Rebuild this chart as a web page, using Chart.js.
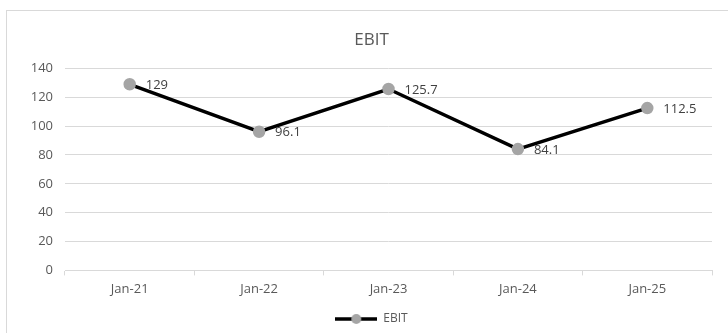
<!DOCTYPE html>
<html>
<head>
<meta charset="utf-8">
<script src="https://cdn.jsdelivr.net/npm/chart.js@4/dist/chart.umd.min.js"></script>
<style>
  html, body { margin: 0; padding: 0; background: #fff; }
  #frame { position: absolute; left: 6px; top: 10px; width: 740px; height: 340px;
           border-left: 1px solid #d9d9d9; border-top: 1px solid #d9d9d9; }
  #wrap { position: absolute; left: 0; top: 0; width: 728px; height: 333px; }
</style>
</head>
<body>
<div id="frame"></div>
<div id="wrap"><canvas id="ebitChart"></canvas></div>
<script>
const months = ['Jan-21', 'Jan-22', 'Jan-23', 'Jan-24', 'Jan-25'];
const ebitValues = [129, 96.1, 125.7, 84.1, 112.5];
const yTicks = [0, 20, 40, 60, 80, 100, 120, 140];

const textColor = '#595959';
const fontFamily = "'Open Sans', 'Liberation Sans', sans-serif";

// legend marker: black line with grey dot
function legendMarker() {
  const c = document.createElement('canvas');
  c.width = 42; c.height = 12;
  const g = c.getContext('2d');
  g.strokeStyle = '#000'; g.lineWidth = 3.5;
  g.beginPath(); g.moveTo(0, 6); g.lineTo(42, 6); g.stroke();
  g.fillStyle = '#a5a5a5';
  g.beginPath(); g.arc(21, 6, 5, 0, Math.PI * 2); g.fill();
  return c;
}

const valueLabels = {
  id: 'valueLabels',
  afterDatasetsDraw(chart) {
    const ctx = chart.ctx;
    const meta = chart.getDatasetMeta(0);
    ctx.save();
    ctx.font = '13px ' + fontFamily;
    ctx.fillStyle = '#404040';
    ctx.textAlign = 'left';
    ctx.textBaseline = 'middle';
    meta.data.forEach((pt, i) => {
      ctx.fillText(String(ebitValues[i]), pt.x + 16, pt.y + 1);
    });
    ctx.restore();
  }
};

new Chart(document.getElementById('ebitChart'), {
  type: 'line',
  data: {
    labels: months,
    datasets: [{
      label: 'EBIT',
      data: ebitValues,
      borderColor: '#000000',
      borderWidth: 3.5,
      pointBackgroundColor: '#a5a5a5',
      pointBorderColor: '#a5a5a5',
      pointRadius: 4.5,
      tension: 0
    }]
  },
  options: {
    responsive: true,
    maintainAspectRatio: false,
    animation: false,
    layout: { padding: { left: 31, right: 16, top: 0, bottom: -2 } },
    plugins: {
      title: {
        display: true,
        text: 'EBIT',
        color: textColor,
        font: { family: fontFamily, size: 17, weight: 'normal' },
        padding: { top: 30, bottom: 18 }
      },
      legend: {
        position: 'bottom',
        labels: {
          color: textColor,
          font: { family: fontFamily, size: 12 },
          usePointStyle: true,
          pointStyleWidth: 42,
          generateLabels: () => [{
            text: 'EBIT', pointStyle: legendMarker(), fontColor: textColor,
            lineWidth: 0, strokeStyle: 'transparent', fillStyle: 'transparent', datasetIndex: 0
          }],
          padding: 10
        }
      },
      tooltip: { enabled: false }
    },
    scales: {
      x: {
        offset: true,
        grid: { offset: true, drawOnChartArea: false, color: '#d9d9d9', tickLength: 5 },
        border: { color: '#d9d9d9' },
        ticks: { color: textColor, font: { family: fontFamily, size: 13 }, padding: 6 }
      },
      y: {
        min: 0, max: 140,
        afterFit(scale) { scale.width = 34; },
        afterBuildTicks(scale) { scale.ticks = yTicks.map(v => ({ value: v })); },
        grid: { color: '#d9d9d9', drawTicks: false },
        border: { display: false },
        ticks: { color: textColor, font: { family: fontFamily, size: 13 }, padding: 12 }
      }
    }
  },
  plugins: [valueLabels]
});
</script>
</body>
</html>
